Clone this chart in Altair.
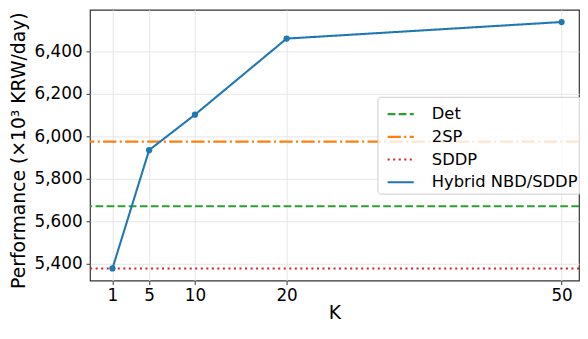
import altair as alt
import pandas as pd

methods = ["Det", "2SP", "SDDP", "Hybrid NBD/SDDP"]
colors = ["#2ca02c", "#ff7f0e", "#d62728", "#1f77b4"]
dashes = [[7.8, 3.4], [13.4, 3.4, 2.1, 3.4], [2.1, 3.5], [1, 0]]

baseline_methods = ["Det", "2SP", "SDDP"]
baseline_values = [5672, 5976, 5379]

K_values = [1, 5, 10, 20, 50]
hybrid_values = [5379, 5936, 6103, 6461, 6539]

y_ticks = [5400, 5600, 5800, 6000, 6200, 6400]

rules_df = pd.DataFrame({"method": baseline_methods, "value": baseline_values})
line_df = pd.DataFrame({"K": K_values, "value": hybrid_values,
                        "method": ["Hybrid NBD/SDDP"] * len(K_values)})

FONT = "DejaVu Sans"

color_enc = alt.Color("method:N", scale=alt.Scale(domain=methods, range=colors),
                      sort=methods,
                      legend=alt.Legend(title=None, orient="none", legendX=291, legendY=88,
                                        symbolType="stroke", symbolSize=700,
                                        symbolOffset=6,
                                        symbolStrokeWidth=2.1, labelOffset=17,
                                        labelFont=FONT, labelFontSize=16.5,
                                        labelColor="#000", rowPadding=-2,
                                        fillColor="rgba(255,255,255,0.8)",
                                        strokeColor="#cccccc", cornerRadius=3,
                                        padding=3))
dash_enc = alt.StrokeDash("method:N", scale=alt.Scale(domain=methods, range=dashes),
                          sort=methods, legend=None)

y_scale = alt.Scale(domain=[5322, 6596], nice=False, zero=False)
x_scale = alt.Scale(domain=[-1.45, 51.9], nice=False, zero=False)
y_axis = alt.Axis(values=y_ticks, format=",.0f", titleY=142)
y_title = "Performance (×10³ KRW/day)"

rules = alt.Chart(rules_df).mark_rule(strokeWidth=2.1).encode(
    y=alt.Y("value:Q", scale=y_scale, title=y_title, axis=y_axis),
    color=color_enc,
    strokeDash=dash_enc,
)

line = alt.Chart(line_df).mark_line(strokeWidth=2.1, point=alt.OverlayMarkDef(size=40, filled=True, opacity=1)).encode(
    x=alt.X("K:Q", scale=x_scale, title="K",
            axis=alt.Axis(values=K_values, format="d")),
    y=alt.Y("value:Q", scale=y_scale, title=y_title, axis=y_axis),
    color=color_enc,
    strokeDash=dash_enc,
)

chart = alt.layer(rules, line).properties(
    width=495, height=274,
    autosize=alt.AutoSizeParams(type="none"),
    padding={"left": 83, "top": 0, "right": 1, "bottom": 41},
).configure_view(
    stroke="#333333", strokeWidth=1.2
).configure_axis(
    labelFont=FONT, labelFontSize=17, labelColor="#000",
    titleFont=FONT, titleFontSize=19, titleColor="#000", titleFontWeight="normal",
    gridColor="#e6e6e6", gridWidth=1,
    domain=False, tickColor="#333333", tickSize=4, tickWidth=1,
    labelPadding=4,
).configure_axisY(
    titlePadding=6,
).configure_axisX(
    titlePadding=15, labelPadding=3, titleBaseline="alphabetic",
)

chart.save("out.html", embed_options={"renderer": "svg", "actions": False})
